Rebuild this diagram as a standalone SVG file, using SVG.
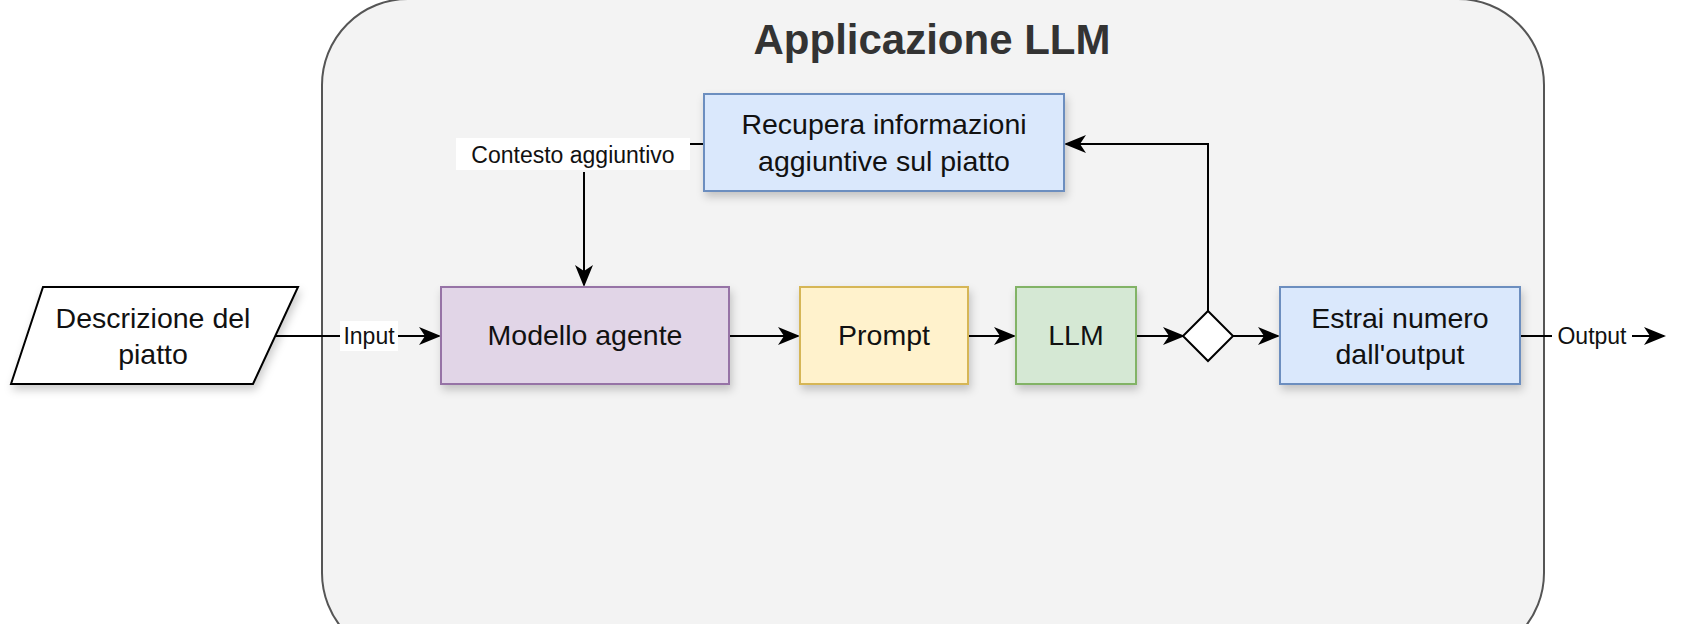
<svg xmlns="http://www.w3.org/2000/svg" width="1681" height="624" viewBox="0 0 1681 624">
<style>
text{font-family:"Liberation Sans",Arial,sans-serif;fill:#111}
.t{font-size:28.5px;text-anchor:middle}
.l{font-size:23px;text-anchor:middle}
.c{stroke:#000;stroke-width:2;fill:none}
</style>
<defs>
<marker id="b" markerWidth="22" markerHeight="22" refX="20" refY="11" orient="auto" markerUnits="userSpaceOnUse" viewBox="0 0 22 22"><path d="M0,2 L22,11 L0,20 L6,11 Z" fill="#000"/></marker>
<filter id="s" x="-10%" y="-10%" width="130%" height="140%"><feDropShadow dx="2" dy="5" stdDeviation="4" flood-opacity="0.2"/></filter>
</defs>
<rect width="1681" height="624" fill="#fff"/>
<g id="frame"><rect x="322" y="-1" width="1222" height="660" rx="86" fill="#f3f3f3" stroke="#555" stroke-width="2"/>
<text x="932" y="54" style="font-size:42px;font-weight:bold;text-anchor:middle;fill:#333">Applicazione LLM</text></g>
<g id="connectors">
<path class="c" d="M275,336 H340"/><path class="c" d="M397,336 H439" marker-end="url(#b)"/>
<path class="c" d="M729,336 H798" marker-end="url(#b)"/>
<path class="c" d="M968,336 H1014" marker-end="url(#b)"/>
<path class="c" d="M1136,336 H1183" marker-end="url(#b)"/>
<path class="c" d="M1233,336 H1278" marker-end="url(#b)"/>
<path class="c" d="M1208,311 V144 H1066" marker-end="url(#b)"/>
<path class="c" d="M704,144 H690"/>
<path class="c" d="M584,172 V285" marker-end="url(#b)"/>
<path class="c" d="M1520,336 H1552"/><path class="c" d="M1632,336 H1664" marker-end="url(#b)"/>
<rect x="340" y="321" width="58" height="30" fill="#fff"/>
<text class="l" x="369" y="344">Input</text>
<rect x="456" y="138" width="234" height="32" fill="#fff"/>
<text class="l" x="573" y="163">Contesto aggiuntivo</text>
<text class="l" x="1592" y="344">Output</text>
</g>
<g id="descrizione"><polygon points="11,384 43,287 298,287 253,384" fill="#fff" stroke="#000" stroke-width="2" filter="url(#s)"/>
<text class="t" x="153" y="328">Descrizione del</text><text class="t" x="153" y="364">piatto</text></g>
<g id="modello"><rect x="441" y="287" width="288" height="97" fill="#e1d5e7" stroke="#9673a6" stroke-width="2" filter="url(#s)"/>
<text class="t" x="585" y="345">Modello agente</text></g>
<g id="prompt"><rect x="800" y="287" width="168" height="97" fill="#fff2cc" stroke="#d6b656" stroke-width="2" filter="url(#s)"/>
<text class="t" x="884" y="345">Prompt</text></g>
<g id="llm"><rect x="1016" y="287" width="120" height="97" fill="#d5e8d4" stroke="#82b366" stroke-width="2" filter="url(#s)"/>
<text class="t" x="1076" y="345">LLM</text></g>
<g id="decision"><polygon points="1208,311 1233,336 1208,361 1183,336" fill="#fff" stroke="#000" stroke-width="2"/></g>
<g id="estrai"><rect x="1280" y="287" width="240" height="97" fill="#dae8fc" stroke="#6c8ebf" stroke-width="2" filter="url(#s)"/>
<text class="t" x="1400" y="328">Estrai numero</text><text class="t" x="1400" y="364">dall'output</text></g>
<g id="recupera"><rect x="704" y="94" width="360" height="97" fill="#dae8fc" stroke="#6c8ebf" stroke-width="2" filter="url(#s)"/>
<text class="t" x="884" y="134">Recupera informazioni</text><text class="t" x="884" y="171">aggiuntive sul piatto</text></g>
</svg>
